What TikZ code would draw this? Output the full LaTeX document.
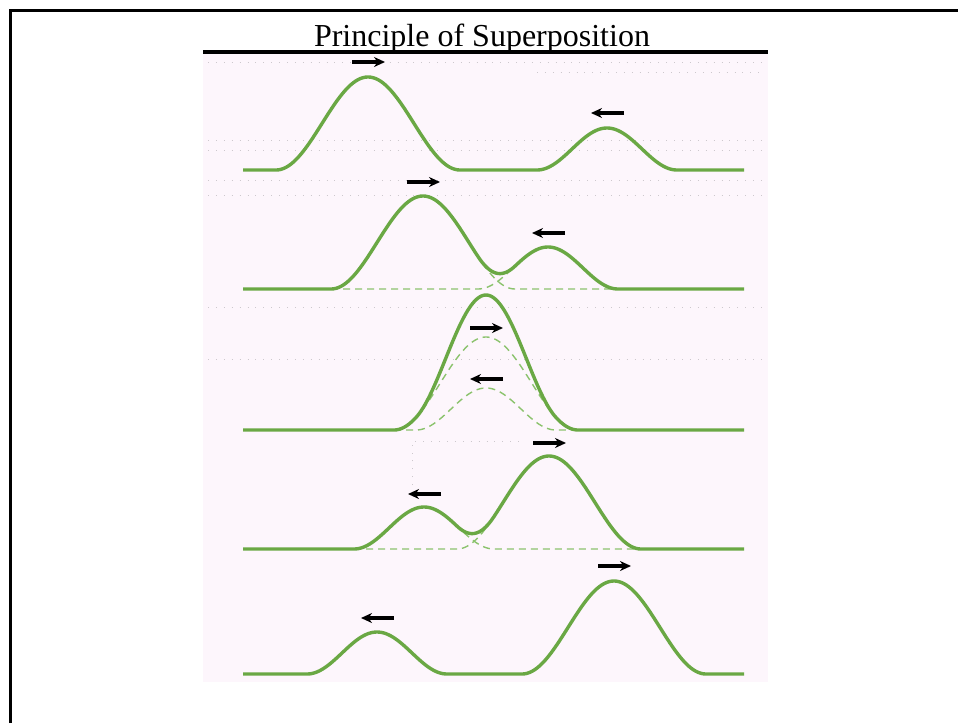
\documentclass[tikz,border=0pt]{standalone}
\usepackage{fontspec}
\setmainfont{Liberation Serif}
\usetikzlibrary{arrows.meta}
\definecolor{pulsegreen}{RGB}{106,168,68}
\definecolor{ghostgreen}{RGB}{140,195,110}
\definecolor{panelpink}{RGB}{253,246,252}
\definecolor{gridgray}{RGB}{205,200,205}

\begin{document}
\begin{tikzpicture}[
    x=1pt, y=-1pt,
    declare function={bump(\t,\c,\w,\a)=(abs(\t-\c)<\w)*\a*(1+cos((180/\w)*(\t-\c)))/2;},
    pulse/.style={pulsegreen, line width=3.4pt, line join=round},
    ghost/.style={ghostgreen, line width=1.4pt, dash pattern=on 7pt off 5pt},
    motion/.style={-{Stealth[length=11pt, width=10pt]}, line width=3.2pt},
    guide/.style={gridgray, line width=0.9pt, dash pattern=on 0.9pt off 7pt}
]
\useasboundingbox (0,0) rectangle (958,723);

% Frame and title
\draw[line width=3pt] (10.5,723) -- (10.5,10.5) -- (958,10.5);
\node[font=\fontsize{32}{36}\selectfont, anchor=base, inner sep=0pt] (title) at (482,46) {Principle of Superposition};
\fill[panelpink] (203,54) rectangle (768,682);
\draw[line width=3.5pt] (203,52) -- (768,52);

% Faint guide lines
\foreach \gy in {62,140,150,180,195,307,359}
    \draw[guide] (208,\gy) -- (766,\gy);
\draw[guide] (537,72) -- (766,72);
\draw[guide] (412,485) -- (412,441) -- (520,441);

% Separate pulses (dashed)
\foreach \base/\cb/\cs/\lo/\hi in {289/423/548/331/618, 430/486/486/394/578, 549/549/424/354/641} {
    \draw[ghost] plot[domain=\lo:\hi, samples=140] (\x, {\base-bump(\x,\cb,92,93)});
    \draw[ghost] plot[domain=\lo:\hi, samples=140] (\x, {\base-bump(\x,\cs,70,42)});
}

% Resulting wave and motion arrows
\foreach \base/\cb/\cs/\yb/\ys in {170/368/607/62/113, 289/423/548/182/233, 430/486/486/328/379, 549/549/424/443/494, 674/614/377/566/618} {
    \draw[pulse] plot[domain=243:744, samples=300] (\x, {\base-bump(\x,\cb,92,93)-bump(\x,\cs,70,42)});
    \draw[motion] ({\cb-16},\yb) -- ({\cb+17},\yb);
    \draw[motion] ({\cs+17},\ys) -- ({\cs-16},\ys);
}

\end{tikzpicture}
\end{document}
